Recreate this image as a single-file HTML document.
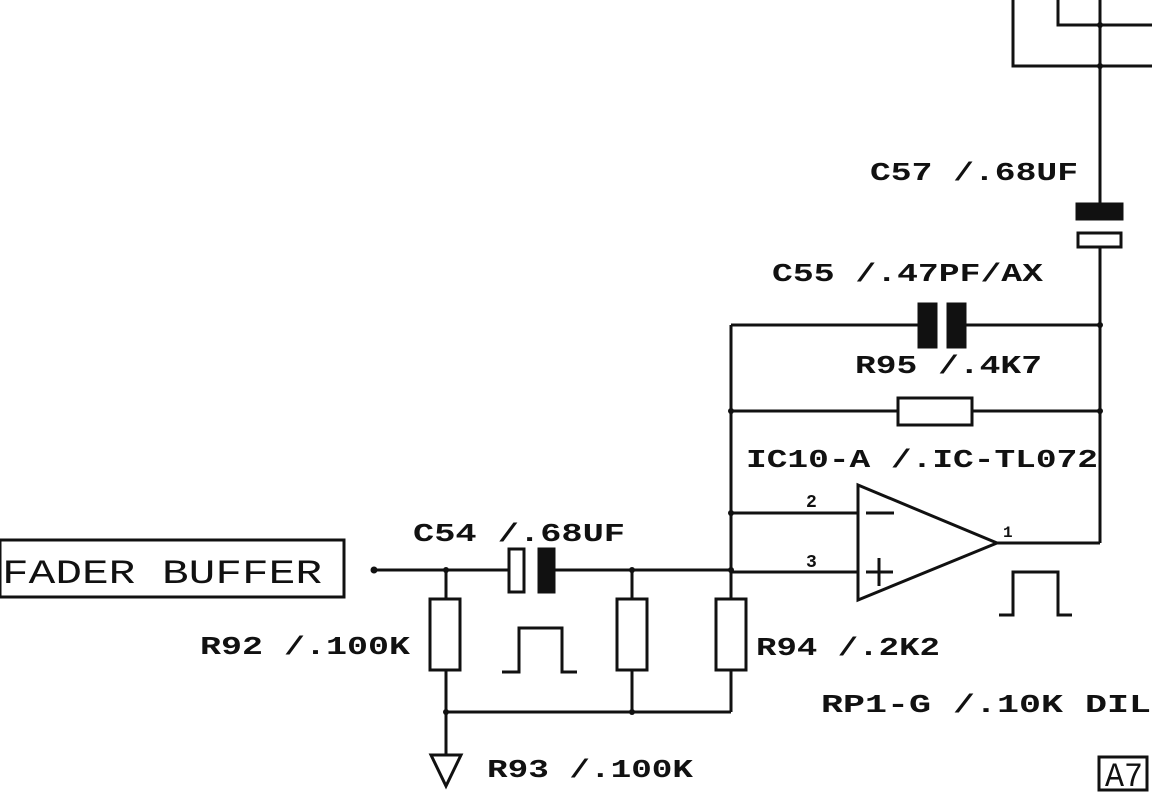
<!DOCTYPE html>
<html><head><meta charset="utf-8"><style>
html,body{margin:0;padding:0;background:#fff;width:1152px;height:798px;overflow:hidden}
svg{display:block}
text{font-family:"Liberation Mono","DejaVu Sans Mono",monospace;font-weight:bold;fill:#111}
</style></head><body>
<svg width="1152" height="798" viewBox="0 0 1152 798" xmlns="http://www.w3.org/2000/svg">
<g stroke="#111" stroke-width="3" fill="none">
<polyline points="1013,0 1013,66 1152,66"/>
<polyline points="1058,0 1058,25 1152,25"/>
<line x1="1100" y1="0" x2="1100" y2="203"/>
<line x1="1100" y1="248" x2="1100" y2="543"/>
<rect x="1077" y="204" width="45" height="15" fill="#111"/>
<rect x="1078" y="233" width="43" height="14" fill="#fff"/>
<line x1="731" y1="325" x2="918" y2="325"/>
<line x1="966" y1="325" x2="1100" y2="325"/>
<rect x="919" y="304" width="17" height="43" fill="#111"/>
<rect x="948" y="304" width="17" height="43" fill="#111"/>
<line x1="731" y1="411" x2="898" y2="411"/>
<line x1="972" y1="411" x2="1100" y2="411"/>
<rect x="898" y="398" width="74" height="27" fill="#fff"/>
<line x1="731" y1="325" x2="731" y2="712"/>
<polygon points="858,485 858,600 997,543" fill="#fff"/>
<line x1="731" y1="513" x2="858" y2="513"/>
<line x1="731" y1="572" x2="858" y2="572"/>
<line x1="866" y1="513" x2="894" y2="513"/>
<line x1="866" y1="572" x2="893" y2="572"/>
<line x1="879" y1="558" x2="879" y2="586"/>
<line x1="997" y1="543" x2="1100" y2="543"/>
<polyline points="999,615 1013,615 1013,572 1058,572 1058,615 1072,615"/>
<rect x="0" y="540" width="344" height="57"/>
<line x1="374" y1="570" x2="509" y2="570"/>
<rect x="509" y="549" width="15" height="43" fill="#fff"/>
<rect x="539" y="549" width="15" height="43" fill="#111"/>
<line x1="554" y1="570" x2="731" y2="570"/>
<line x1="446" y1="570" x2="446" y2="599"/>
<line x1="632" y1="570" x2="632" y2="599"/>
<line x1="731" y1="570" x2="731" y2="599"/>
<rect x="430" y="599" width="30" height="71" fill="#fff"/>
<rect x="617" y="599" width="30" height="71" fill="#fff"/>
<rect x="716" y="599" width="30" height="71" fill="#fff"/>
<line x1="446" y1="670" x2="446" y2="755"/>
<line x1="632" y1="670" x2="632" y2="712"/>
<line x1="731" y1="670" x2="731" y2="712"/>
<line x1="446" y1="712" x2="731" y2="712"/>
<polygon points="431,755 461,755 446,786"/>
<polyline points="502,672 519,672 519,628 562,628 562,672 577,672"/>
<rect x="1099" y="757" width="48" height="33"/>
</g>
<circle cx="374" cy="570" r="3.5" fill="#111"/>
<g fill="#111">
<circle cx="446" cy="570" r="3"/><circle cx="632" cy="570" r="3"/><circle cx="731" cy="570" r="3"/>
<circle cx="731" cy="513" r="3"/><circle cx="731" cy="411" r="3"/><circle cx="1100" cy="411" r="3"/>
<circle cx="1100" cy="325" r="3"/><circle cx="446" cy="712" r="3"/><circle cx="632" cy="712" r="3"/>
<circle cx="1100" cy="66" r="3"/><circle cx="1100" cy="25" r="3"/>
</g>
<g font-size="26">
<text x="870" y="180" textLength="208" lengthAdjust="spacingAndGlyphs">C57 /.68UF</text>
<text x="772" y="281" textLength="271" lengthAdjust="spacingAndGlyphs">C55 /.47PF/AX</text>
<text x="855" y="373" textLength="187" lengthAdjust="spacingAndGlyphs">R95 /.4K7</text>
<text x="746" y="467" textLength="352" lengthAdjust="spacingAndGlyphs">IC10-A /.IC-TL072</text>
<text x="413" y="541" textLength="212" lengthAdjust="spacingAndGlyphs">C54 /.68UF</text>
<text x="200" y="654" textLength="210" lengthAdjust="spacingAndGlyphs">R92 /.100K</text>
<text x="756" y="655" textLength="184" lengthAdjust="spacingAndGlyphs">R94 /.2K2</text>
<text x="821" y="712" textLength="352" lengthAdjust="spacingAndGlyphs">RP1-G /.10K DIL8</text>
<text x="487" y="777" textLength="206" lengthAdjust="spacingAndGlyphs">R93 /.100K</text>
</g>
<text x="2" y="583" font-size="34" textLength="320" lengthAdjust="spacingAndGlyphs" style="font-weight:normal">FADER BUFFER</text>
<text x="1105" y="786" font-size="34" textLength="38" lengthAdjust="spacingAndGlyphs" style="font-weight:normal">A7</text>
<text x="806" y="507" font-size="18">2</text>
<text x="806" y="567" font-size="18">3</text>
<text x="1003" y="537" font-size="16">1</text>
</svg>
</body></html>
